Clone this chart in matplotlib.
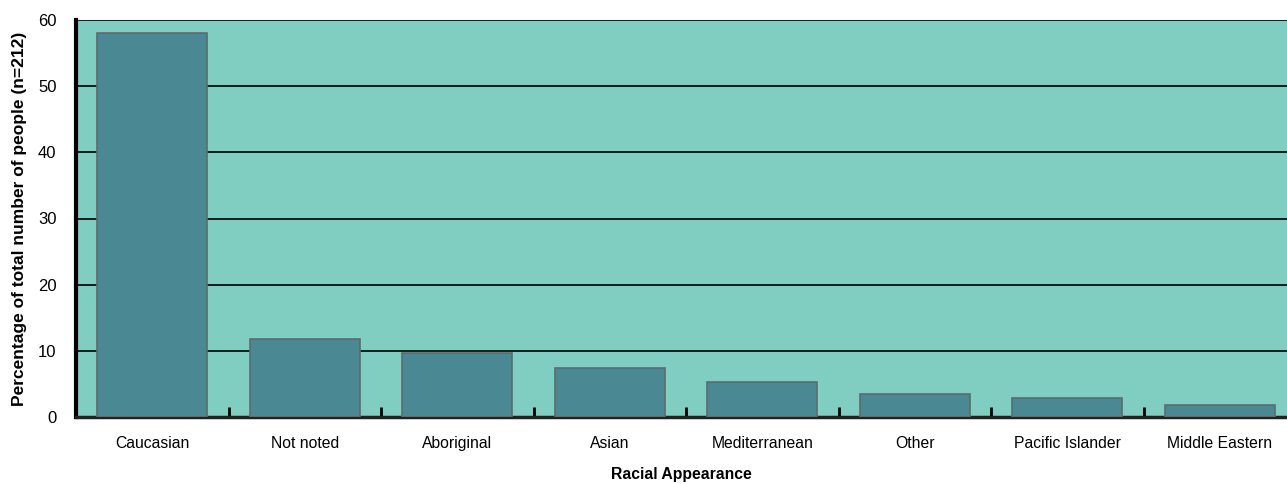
import matplotlib
matplotlib.use("Agg")
import matplotlib.pyplot as plt

categories = ["Caucasian", "Not noted", "Aboriginal", "Asian", "Mediterranean",
              "Other", "Pacific Islander", "Middle Eastern"]
percentages = [58.0, 11.8, 9.7, 7.4, 5.3, 3.5, 2.9, 1.8]
y_ticks = [0, 10, 20, 30, 40, 50, 60]

plt.rcParams["font.family"] = ["Liberation Sans Narrow", "Liberation Sans", "DejaVu Sans"]

fig = plt.figure(figsize=(12.87, 4.84), dpi=100)
ax = fig.add_axes([76 / 1287, 67 / 484, 1 - 76 / 1287, 397 / 484])
ax.set_facecolor("#80CDC1")

x = range(len(categories))
ax.bar(x, percentages, width=0.72, color="#4A8894", edgecolor="#5E6B6B",
       linewidth=1.2, zorder=3)

ax.set_xlim(-0.5, (1287 - 76) / 152.5 - 0.5)
ax.set_ylim(0, 60)
ax.set_yticks(y_ticks)
ax.set_yticklabels([str(v) for v in y_ticks], fontsize=12)
ax.tick_params(axis="y", length=0, pad=14)
ax.set_xticks(list(x))
ax.set_xticklabels(categories, fontsize=11.3)
ax.tick_params(axis="x", length=0, pad=14)
ax.set_xticks([i + 0.5 for i in range(len(categories) - 1)], minor=True)
ax.tick_params(axis="x", which="minor", direction="in", length=7, width=2, color="black")

for v in y_ticks[1:]:
    ax.axhline(v, color="black", linewidth=1.2, zorder=2)

ax.spines["left"].set_linewidth(3)
ax.spines["bottom"].set_linewidth(2.5)
ax.spines["bottom"].set_color("#222222")
ax.spines["top"].set_visible(False)
ax.spines["right"].set_visible(False)

ax.set_xlabel("Racial Appearance", fontsize=11.3, fontweight="bold", labelpad=11)
ax.set_ylabel("Percentage of total number of people (n=212)", fontsize=12.5,
              fontweight="bold", labelpad=8)

fig.savefig("out.png", dpi=100)
